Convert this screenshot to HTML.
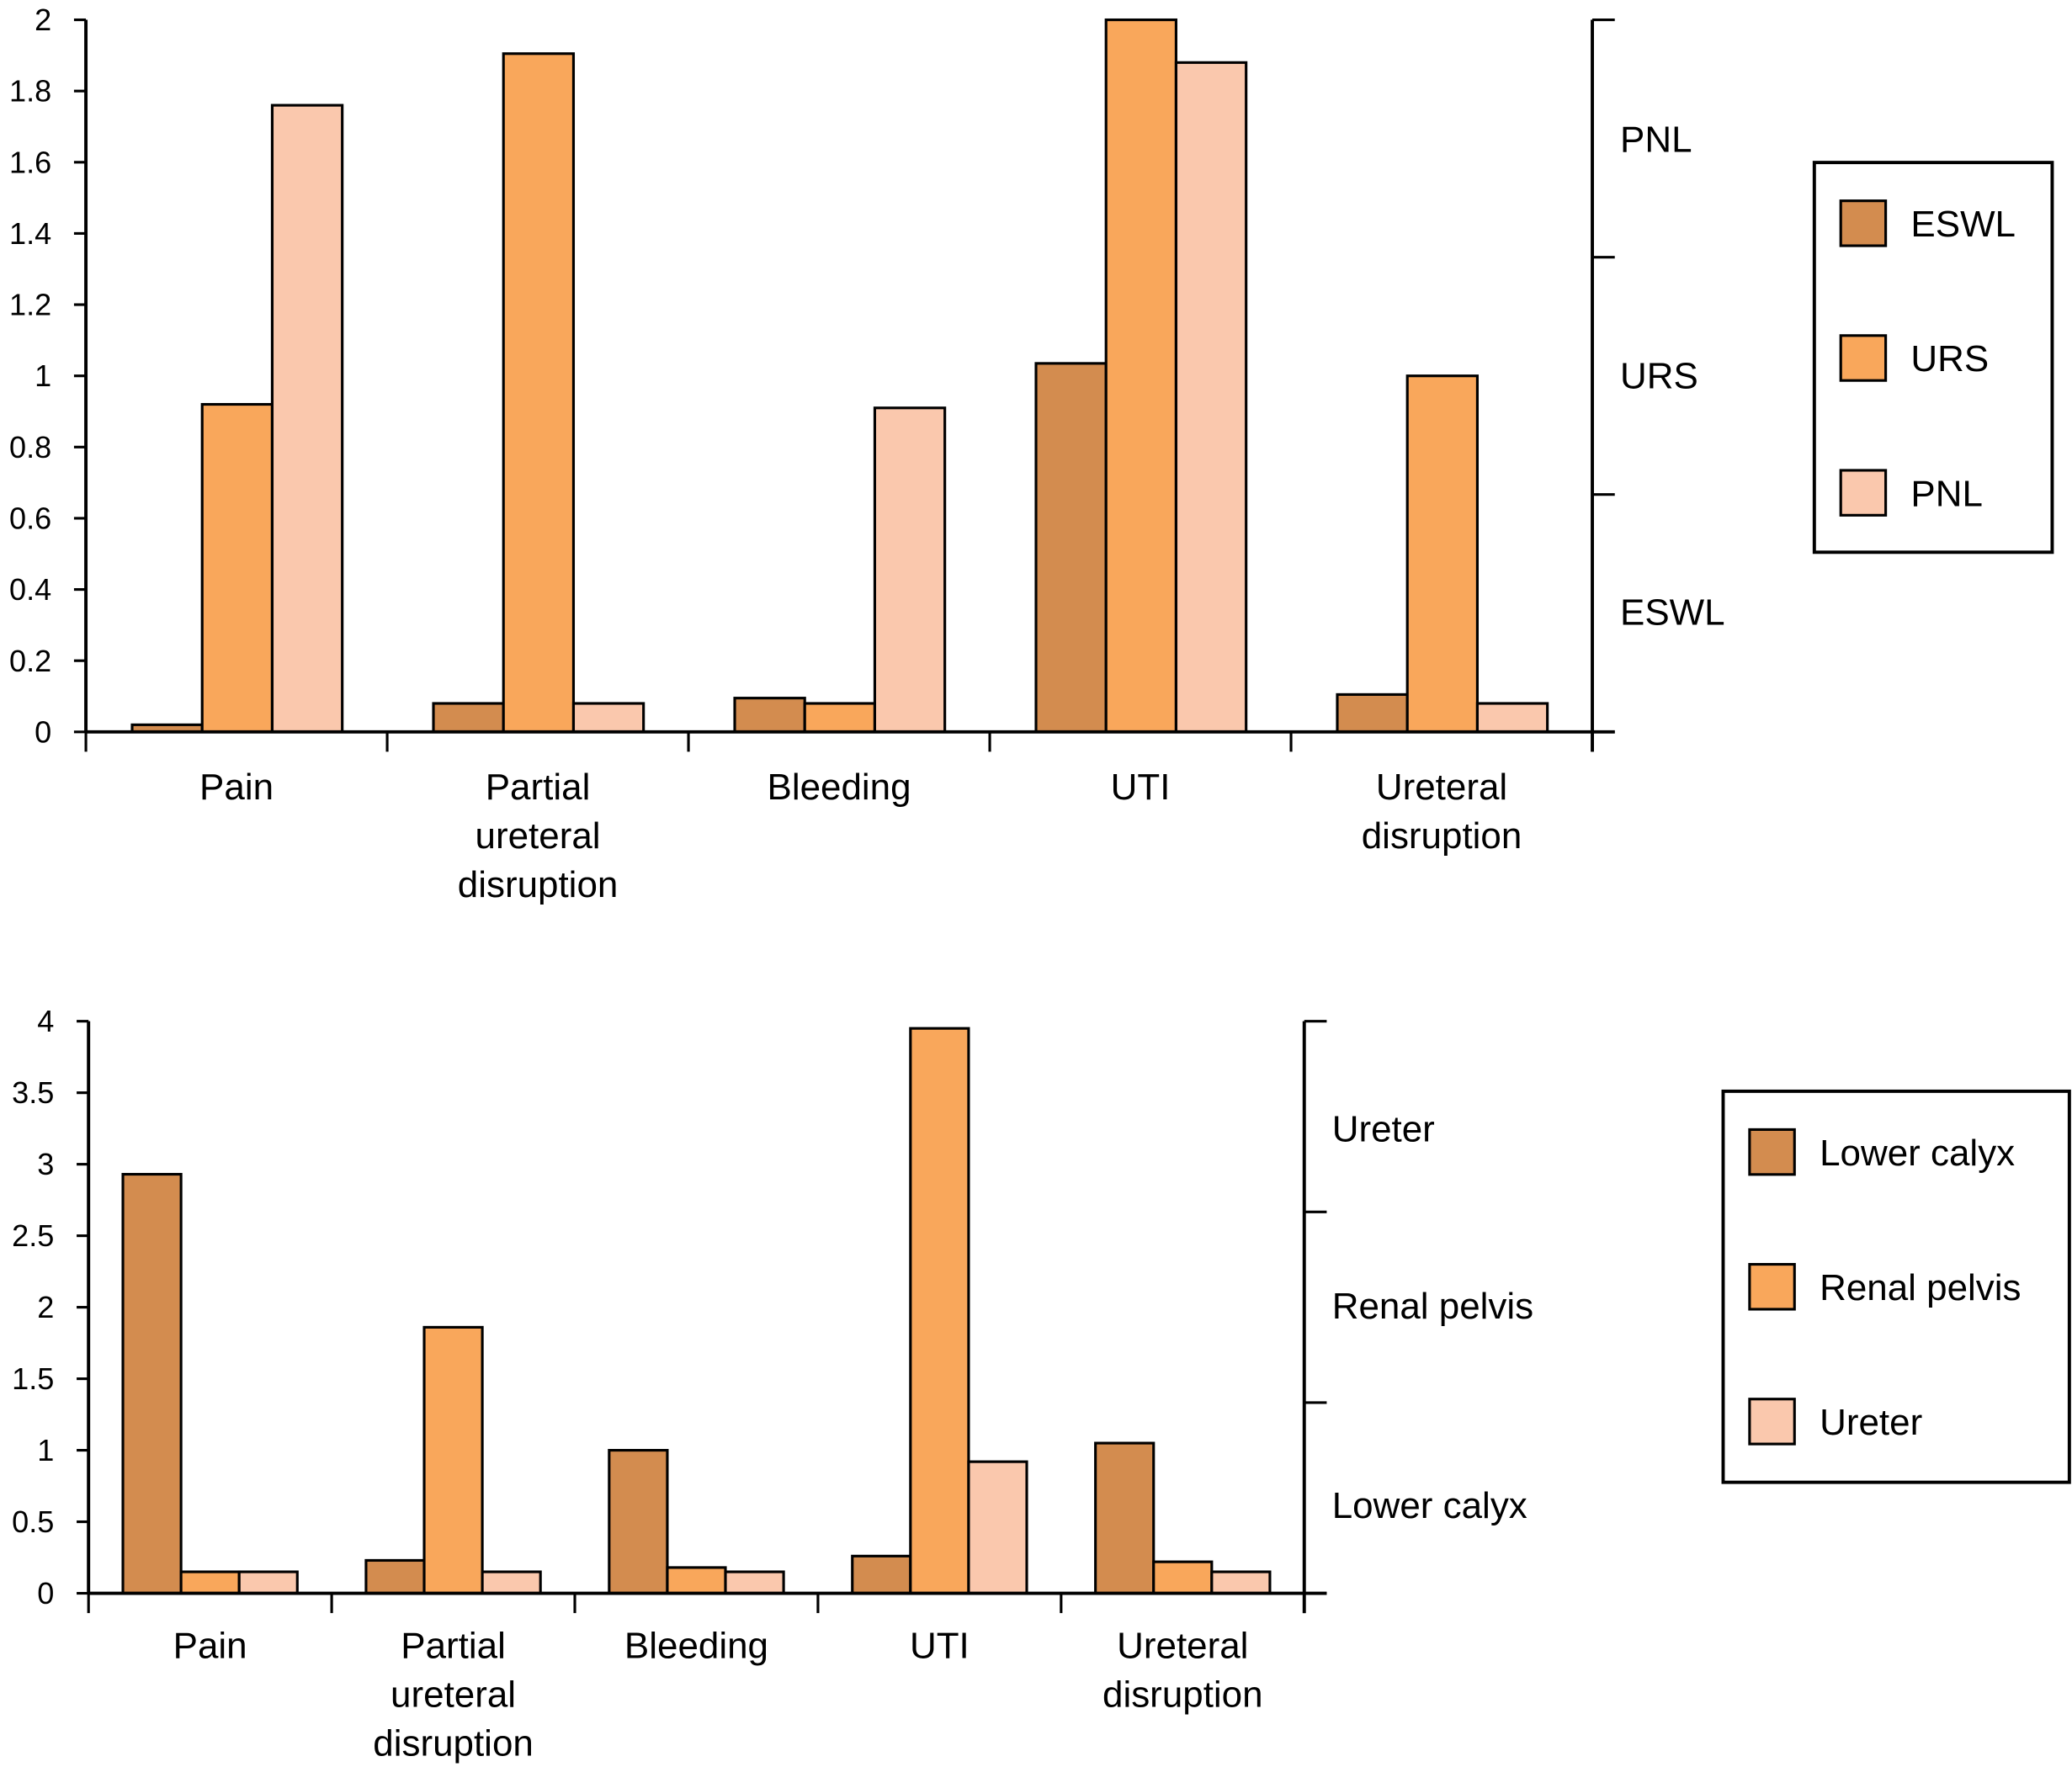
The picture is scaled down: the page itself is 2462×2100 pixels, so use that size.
<!DOCTYPE html>
<html><head><meta charset="utf-8"><style>
html,body{margin:0;padding:0;background:#fff;}
svg{display:block;}
text{font-family:"Liberation Sans",Arial,sans-serif;fill:#000;}
</style></head><body>
<svg id="fig" width="2462" height="2100" viewBox="0 0 1568 1337.5" preserveAspectRatio="none" xmlns="http://www.w3.org/2000/svg">
<g id="top"></g>
<g id="bot"></g>
</svg>
<script>
const categories = ["Pain", "Partial\nureteral\ndisruption", "Bleeding", "UTI", "Ureteral\ndisruption"];
const topSeriesNames = ["ESWL", "URS", "PNL"];
const topESWL = [0.02, 0.08, 0.095, 1.035, 0.105];
const topURS = [0.92, 1.905, 0.08, 2.0, 1.0];
const topPNL = [1.76, 0.08, 0.91, 1.88, 0.08];
const topTicks = [0, 0.2, 0.4, 0.6, 0.8, 1, 1.2, 1.4, 1.6, 1.8, 2];
const topTickLabels = ["0", "0.2", "0.4", "0.6", "0.8", "1", "1.2", "1.4", "1.6", "1.8", "2"];
const botSeriesNames = ["Lower calyx", "Renal pelvis", "Ureter"];
const botLower = [2.93, 0.23, 1.0, 0.26, 1.05];
const botRenal = [0.15, 1.86, 0.18, 3.95, 0.22];
const botUreter = [0.15, 0.15, 0.15, 0.92, 0.15];
const botTicks = [0, 0.5, 1, 1.5, 2, 2.5, 3, 3.5, 4];
const botTickLabels = ["0", "0.5", "1", "1.5", "2", "2.5", "3", "3.5", "4"];

const colors = ["#d38c4f", "#f9a75b", "#fac8ad"];
const NS = "http://www.w3.org/2000/svg";
function mk(parent, tag, attrs, txt) {
  const e = document.createElementNS(NS, tag);
  for (const k in attrs) e.setAttribute(k, attrs[k]);
  if (txt !== undefined) e.textContent = txt;
  parent.appendChild(e);
  return e;
}

function drawChart(g, cfg) {
  const y = v => cfg.y0 - (v / cfg.max) * (cfg.y0 - cfg.yTop);
  const xCat = i => cfg.x0 + i * cfg.gw;
  // bars
  cfg.series.forEach((vals, s) => {
    vals.forEach((v, i) => {
      const r = mk(g, "rect", {x: xCat(i) + cfg.off + s * cfg.bw, y: y(v), width: cfg.bw, height: cfg.y0 - y(v), fill: colors[s], stroke: "#000", "stroke-width": 2});
      
      
    });
  });
  // left axis
  const ax = mk(g, "line", {x1: cfg.x0, y1: cfg.yTop, x2: cfg.x0, y2: cfg.y0, stroke: "#000", "stroke-width": 2.5});
  
  
  cfg.ticks.forEach((t, i) => {
    mk(g, "line", {x1: cfg.x0 - 9, y1: y(t), x2: cfg.x0, y2: y(t), stroke: "#000", "stroke-width": 2});
    const tl = mk(g, "text", {x: cfg.x0 - 26, y: y(t) + 8, "font-size": 23, "text-anchor": "end"}, cfg.tickLabels[i]);
    
    
  });
  // x axis
  const xEnd = xCat(categories.length);
  const xa = mk(g, "line", {x1: cfg.x0, y1: cfg.y0, x2: xEnd + 17, y2: cfg.y0, stroke: "#000", "stroke-width": 2.5});
  
  
  for (let i = 0; i <= categories.length; i++) {
    mk(g, "line", {x1: xCat(i), y1: cfg.y0, x2: xCat(i), y2: cfg.y0 + 15, stroke: "#000", "stroke-width": 2});
  }
  categories.forEach((c, i) => {
    const t = mk(g, "text", {x: xCat(i) + cfg.gw / 2 + (cfg.lblDx || 0), y: cfg.labelY, "font-size": 28, "text-anchor": "middle"});
    
    
    c.split("\n").forEach((ln, k) => mk(t, "tspan", {x: xCat(i) + cfg.gw / 2 + (cfg.lblDx || 0), dy: k ? 37 : 0}, ln));
  });
  // right axis
  const ra = mk(g, "line", {x1: xEnd, y1: cfg.yTop, x2: xEnd, y2: cfg.y0 + 15, stroke: "#000", "stroke-width": 2.5});
  
  
  for (let k = 0; k <= 3; k++) {
    const yy = cfg.yTop + k * (cfg.y0 - cfg.yTop) / 3;
    mk(g, "line", {x1: xEnd, y1: yy, x2: xEnd + 17, y2: yy, stroke: "#000", "stroke-width": 2});
  }
  cfg.rightLabels.forEach((rl, k) => {
    const t = mk(g, "text", {x: xEnd + 21, y: rl[1], "font-size": 28}, rl[0]);
    
    
  });
  // legend
  const L = cfg.legend;
  const lb = mk(g, "rect", {x: L.x, y: L.y, width: L.w, height: L.h, fill: "#fff", stroke: "#000", "stroke-width": 2.5});
  
  
  cfg.names.forEach((n, s) => {
    const sy = L.y + 29 + s * 102;
    const sw = mk(g, "rect", {x: L.x + 20, y: sy, width: 34, height: 34, fill: colors[s], stroke: "#000", "stroke-width": 2});
    
    
    const t = mk(g, "text", {x: L.x + 73, y: sy + 27, "font-size": 28}, n);
    
    
  });
}

drawChart(document.getElementById("top"), {
  x0: 65, gw: 228, off: 35, bw: 53, y0: 554, yTop: 15, max: 2,
  series: [topESWL, topURS, topPNL], names: topSeriesNames,
  ticks: topTicks, tickLabels: topTickLabels, labelY: 605, lblDx: 0,
  rightLabels: [["PNL", 115], ["URS", 294], ["ESWL", 473]],
  legend: {x: 1373, y: 123, w: 180, h: 295}
});
drawChart(document.getElementById("bot"), {
  x0: 67, gw: 184, off: 26, bw: 44, y0: 1206, yTop: 773, max: 4,
  series: [botLower, botRenal, botUreter], names: botSeriesNames,
  ticks: botTicks, tickLabels: botTickLabels, labelY: 1255, lblDx: 0,
  rightLabels: [["Ureter", 864], ["Renal pelvis", 998], ["Lower calyx", 1149]],
  legend: {x: 1304, y: 826, w: 262, h: 296}
});
</script>
</body></html>
